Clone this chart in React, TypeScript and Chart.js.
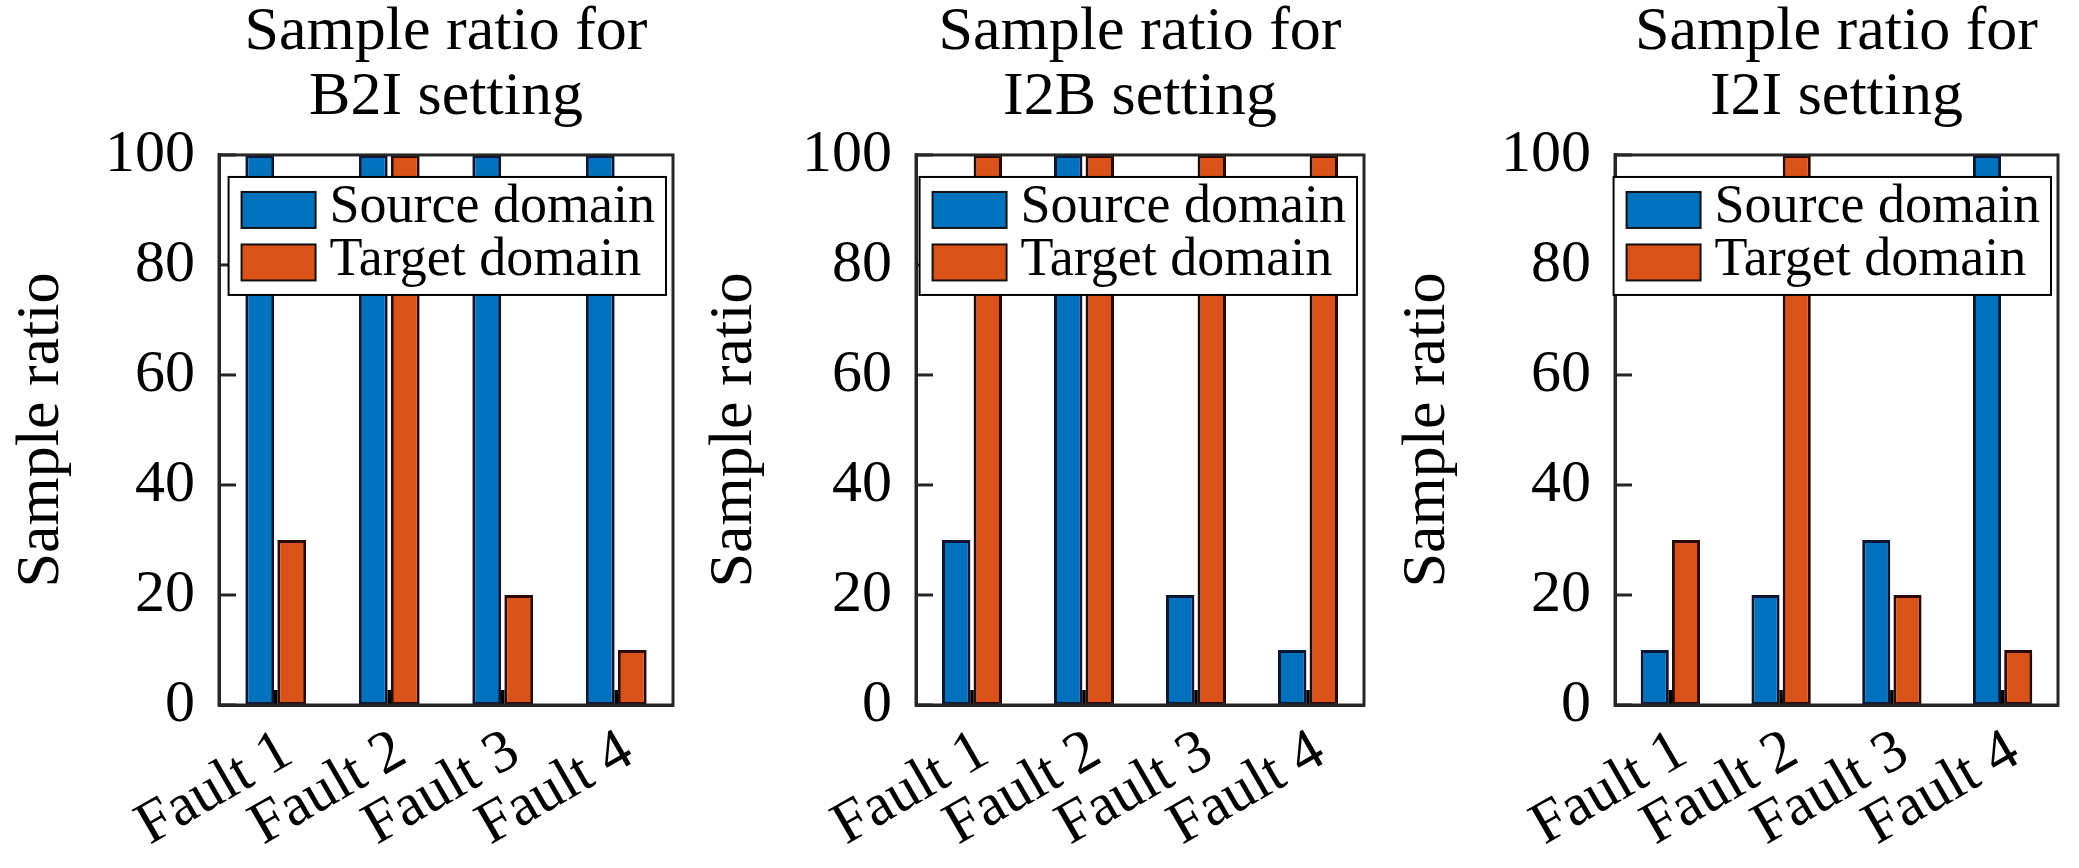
import React, { useEffect, useRef } from 'react';
import { Chart, registerables } from 'chart.js';

Chart.register(...registerables);

const categories = ['Fault 1', 'Fault 2', 'Fault 3', 'Fault 4'];
const seriesLabels = ['Source domain', 'Target domain'];
const yAxisTitle = 'Sample ratio';
const panelTitles = [
  ['Sample ratio for', 'B2I setting'],
  ['Sample ratio for', 'I2B setting'],
  ['Sample ratio for', 'I2I setting'],
];
const b2iSource = [100, 100, 100, 100];
const b2iTarget = [30, 100, 20, 10];
const i2bSource = [30, 100, 20, 10];
const i2bTarget = [100, 100, 100, 100];
const i2iSource = [10, 20, 30, 100];
const i2iTarget = [30, 100, 20, 10];
const yTickValues = [0, 20, 40, 60, 80, 100];

const panelSeries = [
  [b2iSource, b2iTarget],
  [i2bSource, i2bTarget],
  [i2iSource, i2iTarget],
];

const FONT = "'Liberation Serif', 'Times New Roman', serif";
const COLORS = ['#0072BD', '#D95319'];
const BORDERS = ['#0b1634', '#2a0a02'];
const AXIS_COLOR = '#262626';

const PANEL_W = 693;
const PANEL_H = 868;
const PANEL_LEFTS = [0, 693, 1386];
const PLOT_LEFT = [219, 223, 229];
const PLOT_RIGHT = [673, 671, 672];
const PLOT_BOTTOM = 705;

const decorPlugin = {
  id: 'decor',
  afterDatasetsDraw(chart: any) {
    const { ctx, chartArea } = chart;
    const { left, right, top, bottom } = chartArea;
    const yScale = chart.scales.y;
    const xScale = chart.scales.x;
    ctx.save();
    // inward ticks on y
    ctx.strokeStyle = AXIS_COLOR;
    ctx.lineWidth = 3;
    yTickValues.forEach((v) => {
      const py = yScale.getPixelForValue(v);
      ctx.beginPath();
      ctx.moveTo(left, py);
      ctx.lineTo(left + 17, py);
      ctx.stroke();
    });
    // inward ticks on x at category centres
    ctx.strokeStyle = '#000';
    ctx.lineWidth = 3.5;
    categories.forEach((_, i) => {
      const px = xScale.getPixelForValue(i);
      ctx.beginPath();
      ctx.moveTo(px, bottom);
      ctx.lineTo(px, bottom - 15);
      ctx.stroke();
    });
    // box
    ctx.strokeStyle = AXIS_COLOR;
    ctx.lineWidth = 3;
    ctx.strokeRect(left, top, right - left, bottom - top);

    // legend inside top right
    ctx.font = `54px ${FONT}`;
    const textW = Math.max(
      ...chart.data.datasets.map((d: any) => ctx.measureText(d.label).width)
    );
    const lw = 101 + textW + 11;
    const lh = 118;
    const lx = right - 7 - lw;
    const ly = top + 22;
    ctx.fillStyle = '#fff';
    ctx.fillRect(lx, ly, lw, lh);
    ctx.strokeStyle = '#000';
    ctx.lineWidth = 2;
    ctx.strokeRect(lx, ly, lw, lh);
    const rows = [33, 85.5];
    chart.data.datasets.forEach((d: any, i: number) => {
      const cy = ly + rows[i];
      ctx.fillStyle = d.backgroundColor;
      ctx.fillRect(lx + 13, cy - 18, 74, 36);
      ctx.strokeStyle = '#111';
      ctx.lineWidth = 2;
      ctx.strokeRect(lx + 13, cy - 18, 74, 36);
      ctx.fillStyle = '#000';
      ctx.textAlign = 'left';
      ctx.textBaseline = 'alphabetic';
      ctx.fillText(d.label, lx + 101, cy + 12.5);
    });
    ctx.restore();
  },
};

function Panel({ index }: { index: number }) {
  const ref = useRef<HTMLCanvasElement | null>(null);
  useEffect(() => {
    if (!ref.current) return;
    const [src, tgt] = panelSeries[index];
    const plotLeft = PLOT_LEFT[index];
    const plotRight = PLOT_RIGHT[index];
    const chart = new Chart(ref.current, {
      type: 'bar',
      data: {
        labels: categories,
        datasets: [
          {
            label: seriesLabels[0],
            data: src,
            backgroundColor: COLORS[0],
            borderColor: BORDERS[0],
            borderWidth: 3,
            borderSkipped: false,
          },
          {
            label: seriesLabels[1],
            data: tgt,
            backgroundColor: COLORS[1],
            borderColor: BORDERS[1],
            borderWidth: 3,
            borderSkipped: false,
          },
        ],
      },
      options: {
        animation: false,
        responsive: false,
        devicePixelRatio: 1,
        layout: { padding: { left: 0, right: PANEL_W - plotRight, top: 0, bottom: 0 } },
        datasets: { bar: { categoryPercentage: 0.564, barPercentage: 0.9 } },
        plugins: {
          legend: { display: false },
          tooltip: { enabled: false },
          title: {
            display: true,
            text: panelTitles[index],
            fullSize: false,
            color: '#000',
            font: { family: FONT, size: 62, weight: 'normal', lineHeight: 1.048 },
            padding: { top: 0, bottom: 25 },
          },
        },
        scales: {
          x: {
            grid: { display: false, drawTicks: false },
            border: { display: true, color: AXIS_COLOR, width: 3 },
            ticks: {
              color: '#000',
              font: { family: FONT, size: 60 },
              maxRotation: 30,
              minRotation: 30,
              padding: 11,
              labelOffset: 12,
              autoSkip: false,
            },
            afterFit: (s: any) => {
              s.height = PANEL_H - PLOT_BOTTOM;
            },
          },
          y: {
            min: 0,
            max: 100,
            grid: { display: false, drawTicks: false },
            border: { display: true, color: AXIS_COLOR, width: 3 },
            ticks: {
              stepSize: 20,
              color: '#000',
              font: { family: FONT, size: 60 },
              padding: 24,
            },
            title: {
              display: true,
              text: yAxisTitle,
              color: '#000',
              font: { family: FONT, size: 62, weight: 'normal', lineHeight: 1.2 },
              padding: { top: 5, bottom: 0 },
            },
            afterFit: (s: any) => {
              s.width = plotLeft;
            },
          },
        },
      },
      plugins: [decorPlugin],
    } as any);
    return () => chart.destroy();
  }, [index]);
  return (
    <div
      style={{
        position: 'absolute',
        left: PANEL_LEFTS[index],
        top: 0,
        width: PANEL_W,
        height: PANEL_H,
      }}
    >
      <canvas ref={ref} width={PANEL_W} height={PANEL_H} style={{ width: PANEL_W, height: PANEL_H }} />
    </div>
  );
}

export default function App() {
  return (
    <div
      style={{
        position: 'absolute',
        left: 0,
        top: 0,
        width: 2079,
        height: 868,
        background: '#fff',
        overflow: 'hidden',
      }}
    >
      {[0, 1, 2].map((i) => (
        <Panel key={i} index={i} />
      ))}
    </div>
  );
}
